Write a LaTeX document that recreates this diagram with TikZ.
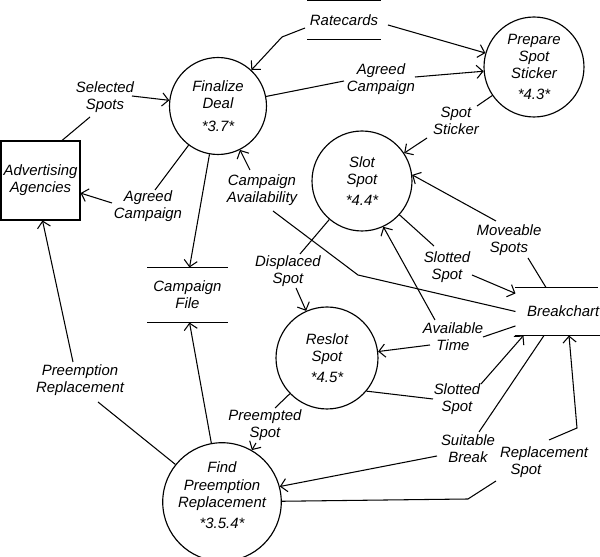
\documentclass[tikz,border=0pt]{standalone}
\usepackage{fontspec}
\setmainfont{Liberation Sans}
\usetikzlibrary{arrows.meta,calc}
\begin{document}
\begin{tikzpicture}[x=0.02cm,y=-0.02cm,
  every node/.style={font=\fontsize{8.5}{9.8}\selectfont\itshape},
  line width=0.6pt,
  proc/.style={circle,draw,line width=0.65pt,minimum size=#1,inner sep=0pt,align=center},
  lbl/.style={align=center,inner sep=1pt},
  store/.style={inner sep=0pt,align=center},
  flow/.style={-{Straight Barb[length=3.6pt,width=7.5pt]}}]
\useasboundingbox (0,0) rectangle (600,557);

% processes
\node[proc=1.94cm] (fd) at (218,106) {Finalize\\Deal\\[3pt]*3.7*};
\node[proc=2cm] (pss) at (534,67) {Prepare\\Spot\\Sticker\\[2pt]*4.3*};
\node[proc=2cm] (ss) at (362,181) {Slot\\Spot\\[2pt]*4.4*};
\node[proc=2.04cm] (rs) at (327,358) {Reslot\\Spot\\[2pt]*4.5*};
\node[proc=2.16cm] (fpr) at (222,502) {Find\\Preemption\\Replacement\\[2pt]*3.5.4*\\[-2pt]\mbox{}};

% external entity
\node[draw,line width=0.6pt,minimum width=1.58cm,minimum height=1.58cm,inner sep=0pt,align=center] (aa) at (40.5,180.5) {Advertising\\Agencies};

% data stores
\node[store,minimum width=1.44cm,minimum height=0.76cm] (rc) at (344,20) {Ratecards};
\draw (rc.north west) -- (rc.north east) (rc.south west) -- (rc.south east);
\node[store,minimum width=1.58cm,minimum height=1.08cm] (cf) at (187.5,295) {Campaign\\File};
\draw (cf.north west) -- (cf.north east) (cf.south west) -- (cf.south east);
\node[store,minimum width=1.68cm,minimum height=0.94cm] (bc) at (558,311.5) {\hspace*{6pt}Breakchart};
\draw (bc.north west) -- ($(bc.north east)+(-3,0)$) (bc.south west) -- (bc.south east);

% labels
\node[lbl] (lSel) at (105,97) {Selected\\Spots};
\node[lbl] (lAgr1) at (381,79) {Agreed\\Campaign};
\node[lbl] (lStk) at (456,121) {Spot\\Sticker};
\node[lbl] (lAgr2) at (148,206) {Agreed\\Campaign};
\node[lbl] (lAvl) at (262,190) {Campaign\\Availability};
\node[lbl] (lDisp) at (288,271) {Displaced\\Spot};
\node[lbl] (lMove) at (509,240) {Moveable\\Spots};
\node[lbl] (lSlot1) at (447,267) {Slotted\\Spot};
\node[lbl] (lTime) at (453,337) {Available\\Time};
\node[lbl] (lSlot2) at (457,399) {Slotted\\Spot};
\node[lbl] (lPre) at (265,425) {Preempted\\Spot};
\node[lbl] (lPR) at (80,380) {Preemption\\Replacement};
\node[lbl] (lSuit) at (468,449) {Suitable\\Break};
\node[lbl,align=left] (lRep) at (544,462) {Replacement\\\hspace*{6pt}Spot};

% connector points
\coordinate (rcA) at (305,28);   \coordinate (rcB) at (282,37);
\coordinate (rcC) at (388,25);
\coordinate (a1) at (344,81);    \coordinate (a2) at (415,77);
\coordinate (s1) at (477,106);   \coordinate (s2) at (427,138);
\coordinate (sel1) at (90,117);  \coordinate (sel2) at (132,96);
\coordinate (ag1) at (155,190);  \coordinate (ag2) at (112,203);
\coordinate (ca1) at (358,275);  \coordinate (ca2) at (273,211); \coordinate (ca3) at (250,170);
\coordinate (d1) at (300,254);   \coordinate (d2) at (296,288);
\coordinate (m1) at (528,258);   \coordinate (m2) at (496,221);
\coordinate (sl1) at (434,246);  \coordinate (sl2) at (472,275);
\coordinate (t1) at (483,337);   \coordinate (t2) at (435,320); \coordinate (t3) at (430,345);
\coordinate (sl3) at (433,399);  \coordinate (sl4) at (481,384);
\coordinate (p1) at (275,408);   \coordinate (p2) at (256,443);
\coordinate (pr1) at (98,402);   \coordinate (pr2) at (73,362);
\coordinate (sb1) at (479,432);  \coordinate (sb2) at (437,456);
\coordinate (r1) at (468,499);   \coordinate (r2) at (496,481);
\coordinate (r3) at (549,440);   \coordinate (r4) at (577,428);

% connectors
\draw[flow] (rcA) -- (rcB) -- (fd);
\draw[flow] (rcC) -- (pss);
\draw (fd) -- (a1);
\draw[flow] (a2) -- (pss);
\draw (pss) -- (s1);
\draw[flow] (s2) -- (ss);
\draw ($(aa.north)+(21.5,0)$) -- (sel1);
\draw[flow] (sel2) -- (fd);
\draw (fd) -- (ag1);
\draw[flow] (ag2) -- (aa);
\draw[flow] (fd) -- ($(cf.north)+(2,0)$);
\draw (bc.west) -- (ca1) -- (ca2);
\draw[flow] (ca3) -- (fd);
\draw (ss) -- (d1);
\draw[flow] (d2) -- (rs);
\draw ($(bc.north)+(-12,0)$) -- (m1);
\draw[flow] (m2) -- (ss.7);
\draw (ss) -- (sl1);
\draw[flow] (sl2) -- (bc);
\draw (bc) -- (t1);
\draw[flow] (t2) -- (ss.-65);
\draw[flow] (t3) -- (rs);
\draw (rs.-40) -- (sl3);
\draw[flow] (sl4) -- ($(bc.south west)+(8,0)$);
\draw (rs) -- (p1);
\draw[flow] (p2) -- (fpr);
\draw[flow] (fpr) -- ($(cf.south)+(2,0)$);
\draw (fpr) -- (pr1);
\draw[flow] (pr2) -- ($(aa.south)+(2,0)$);
\draw ($(bc.south)+(-14,0)$) -- (sb1);
\draw[flow] (sb2) -- (fpr.15);
\draw (fpr) -- (r1) -- (r2);
\draw[flow] (r3) -- (r4) -- ($(bc.south)+(11,0)$);
\end{tikzpicture}
\end{document}
